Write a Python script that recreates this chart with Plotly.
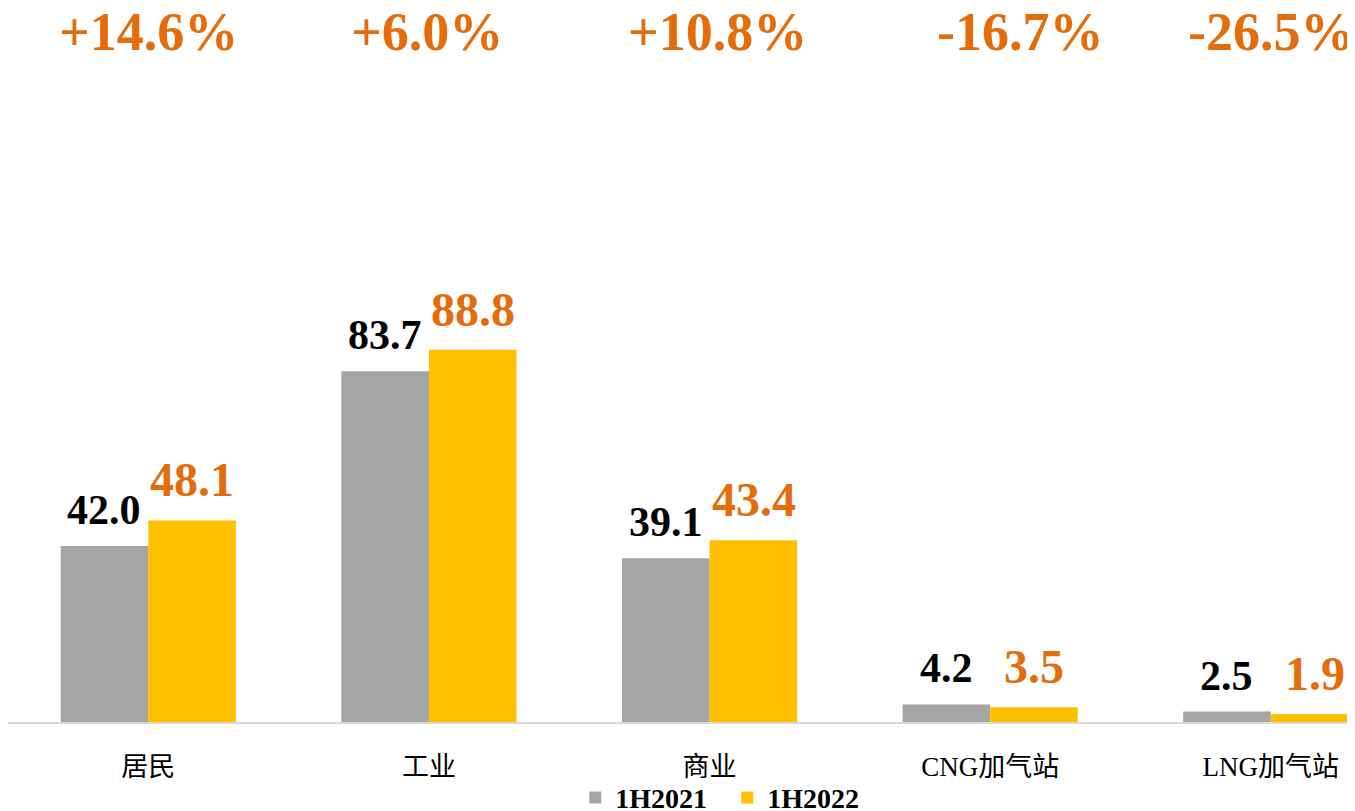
import plotly.graph_objects as go

categories = ["居民", "工业", "商业", "CNG加气站", "LNG加气站"]
v2021 = [42.0, 83.7, 39.1, 4.2, 2.5]
v2022 = [48.1, 88.8, 43.4, 3.5, 1.9]
growth = ["+14.6%", "+6.0%", "+10.8%", "-16.7%", "-26.5%"]
growth_shift = [0, -2, 8, 30, 0]
series_names = ["1H2021", "1H2022"]

GRAY = "#A5A5A5"
YELLOW = "#FFC000"
ORANGE = "#E46C0A"
SERIF = "Liberation Serif, Times New Roman, Noto Sans CJK SC, serif"

fig = go.Figure()
fig.add_trace(go.Bar(x=categories, y=v2021, name=series_names[0], marker=dict(color=GRAY, line=dict(width=0))))
fig.add_trace(go.Bar(x=categories, y=v2022, name=series_names[1], marker=dict(color=YELLOW, line=dict(width=0))))

ann = []
for i, c in enumerate(categories):
    ann.append(dict(x=c, y=v2021[i], xref="x", yref="y", text=f"{v2021[i]:.1f}", showarrow=False,
                    xshift=-44, yshift=11, yanchor="bottom",
                    font=dict(family=SERIF, size=42, color="black", weight="bold")))
    ann.append(dict(x=c, y=v2022[i], xref="x", yref="y", text=f"{v2022[i]:.1f}", showarrow=False,
                    xshift=44, yshift=12, yanchor="bottom",
                    font=dict(family=SERIF, size=48, color=ORANGE, weight="bold")))
    ann.append(dict(x=c, y=1, xref="x", yref="paper", text=growth[i], showarrow=False,
                    xshift=growth_shift[i], yshift=48, yanchor="middle",
                    font=dict(family=SERIF, size=54, color=ORANGE, weight="bold")))

fig.update_layout(
    width=1347, height=803,
    margin=dict(l=0, r=0, t=72, b=89, pad=0, autoexpand=False),
    paper_bgcolor="white", plot_bgcolor="white",
    barmode="group", bargap=0.376, bargroupgap=0,
    showlegend=True,
    legend=dict(orientation="h", x=0.534, xanchor="center", y=-0.118, yanchor="middle",
                font=dict(family=SERIF, size=28, color="black", weight="bold"),
                bgcolor="rgba(0,0,0,0)", itemwidth=30, entrywidth=107, traceorder="normal"),
    annotations=ann,
    xaxis=dict(range=[-0.5, 4.30], showline=True, linecolor="#D9D9D9", linewidth=2,
               ticks="", showgrid=False, zeroline=False, ticklabelstandoff=20,
               tickfont=dict(family=SERIF, size=27, color="black")),
    yaxis=dict(range=[0, 153.2], visible=False, showgrid=False, zeroline=False),
)

fig.write_html("out.html")
